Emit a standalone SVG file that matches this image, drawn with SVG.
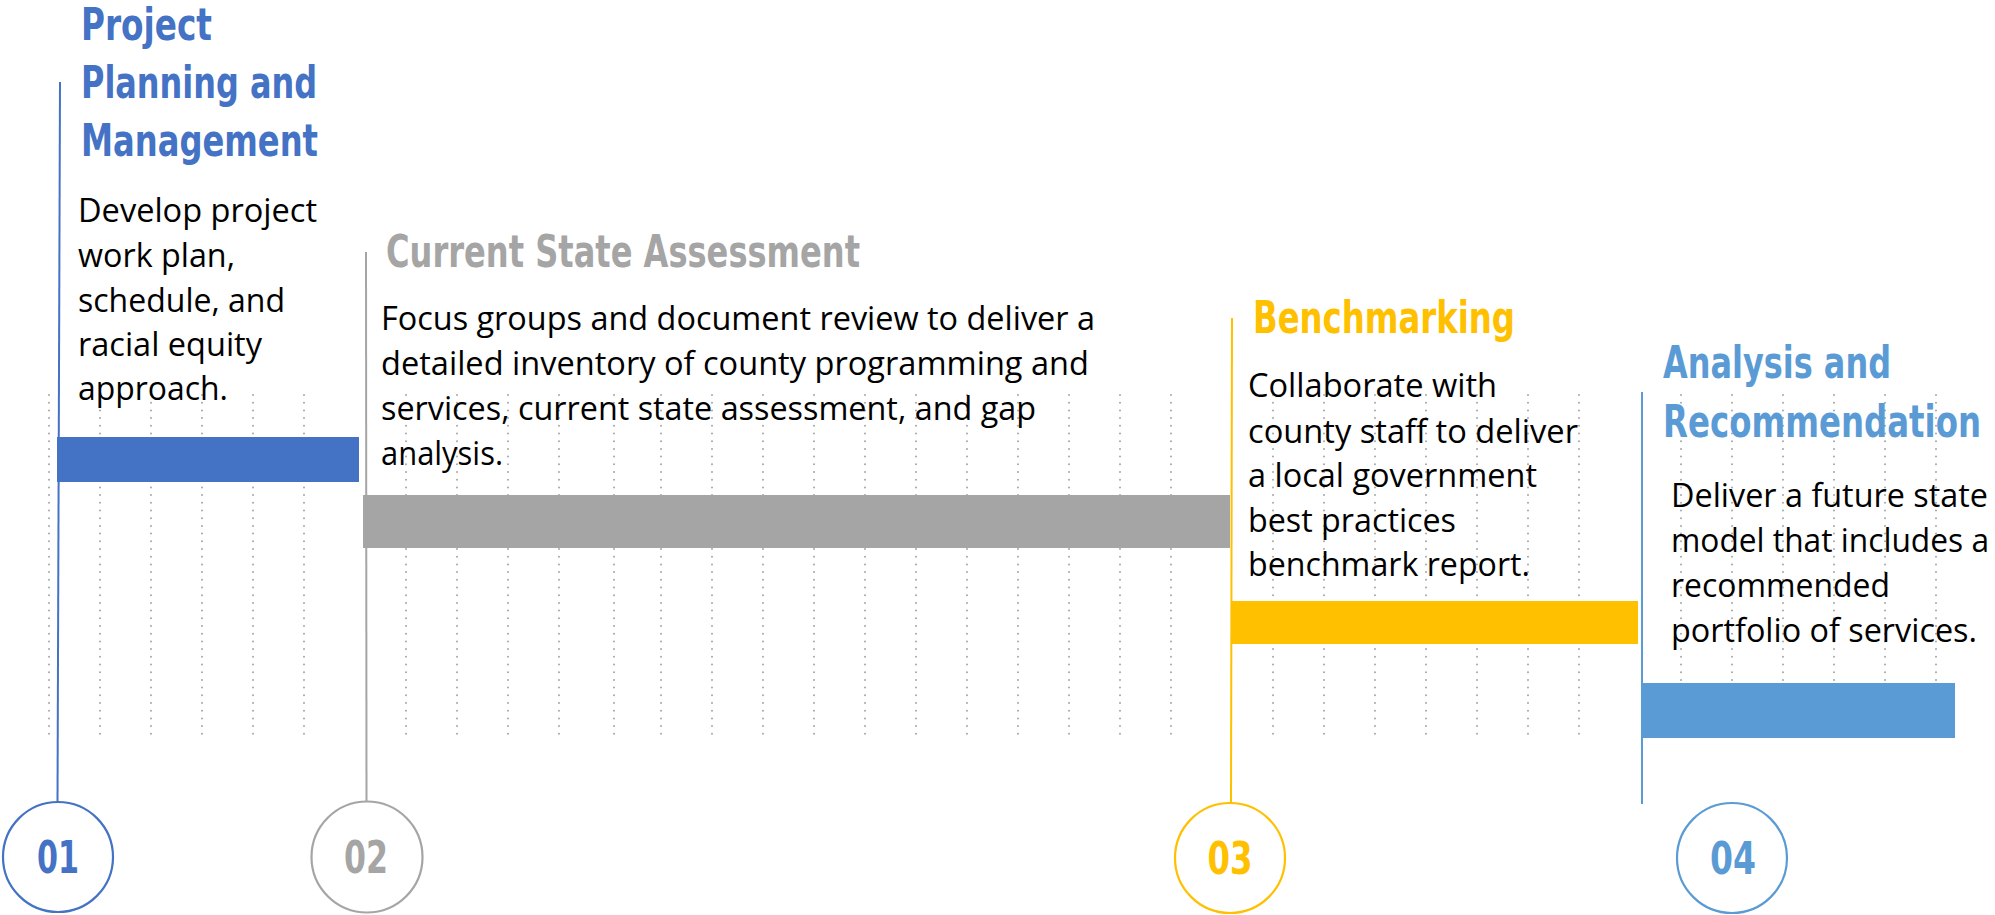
<svg xmlns="http://www.w3.org/2000/svg" width="1995" height="915" viewBox="0 0 1995 915">
<style>
.grid line{stroke:#A6A6A6;stroke-width:2;stroke-dasharray:0 7.7;stroke-linecap:round}
.title{font-family:"DejaVu Sans Condensed","DejaVu Sans","Liberation Sans",sans-serif;font-weight:bold;font-size:44px;font-stretch:condensed}
.body{font-family:"Open Sans","Noto Sans",sans-serif;font-size:33.5px;fill:#000}
.num{font-family:"DejaVu Sans Condensed","DejaVu Sans","Liberation Sans",sans-serif;font-weight:bold;font-size:45px;text-anchor:middle;font-stretch:condensed}
.conn line{stroke-width:2;fill:none}
.ring{fill:#fff;stroke-width:2.2}
.c1{fill:#4472C4}.c2{fill:#A5A5A5}.c3{fill:#FFC000}.c4{fill:#5B9BD5}
</style>
<rect width="1995" height="915" fill="#fff"/>
<g class="grid" id="grid">
<line x1="49" y1="395" x2="49" y2="738"/><line x1="100" y1="395" x2="100" y2="738"/><line x1="151" y1="395" x2="151" y2="738"/><line x1="202" y1="395" x2="202" y2="738"/><line x1="253" y1="395" x2="253" y2="738"/><line x1="304" y1="395" x2="304" y2="738"/>
<line x1="406" y1="395" x2="406" y2="738"/><line x1="457" y1="395" x2="457" y2="738"/><line x1="508" y1="395" x2="508" y2="738"/><line x1="559" y1="395" x2="559" y2="738"/><line x1="614" y1="395" x2="614" y2="738"/><line x1="661" y1="395" x2="661" y2="738"/><line x1="712" y1="395" x2="712" y2="738"/><line x1="763" y1="395" x2="763" y2="738"/><line x1="814" y1="395" x2="814" y2="738"/><line x1="865" y1="395" x2="865" y2="738"/><line x1="916" y1="395" x2="916" y2="738"/><line x1="967" y1="395" x2="967" y2="738"/><line x1="1018" y1="395" x2="1018" y2="738"/><line x1="1069" y1="395" x2="1069" y2="738"/><line x1="1120" y1="395" x2="1120" y2="738"/><line x1="1171" y1="395" x2="1171" y2="738"/>
<line x1="1273" y1="395" x2="1273" y2="738"/><line x1="1324" y1="395" x2="1324" y2="738"/><line x1="1375" y1="395" x2="1375" y2="738"/><line x1="1426" y1="395" x2="1426" y2="738"/><line x1="1477" y1="395" x2="1477" y2="738"/><line x1="1528" y1="395" x2="1528" y2="738"/><line x1="1579" y1="395" x2="1579" y2="738"/>
<line x1="1681" y1="395" x2="1681" y2="738"/><line x1="1732" y1="395" x2="1732" y2="738"/><line x1="1783" y1="395" x2="1783" y2="738"/><line x1="1834" y1="395" x2="1834" y2="738"/><line x1="1885" y1="395" x2="1885" y2="738"/><line x1="1936" y1="395" x2="1936" y2="738"/>
</g>
<g class="conn" id="connectors">
<line x1="60" y1="82" x2="57.5" y2="802" stroke="#4472C4"/>
<line x1="366" y1="252" x2="366.5" y2="801" stroke="#A5A5A5"/>
<line x1="1232" y1="318" x2="1231" y2="803" stroke="#FFC000"/>
<line x1="1642" y1="392" x2="1642" y2="804" stroke="#5B9BD5"/>
</g>
<g id="phase-01">
<rect class="c1" x="57" y="437" width="302" height="45"/>
<text class="title c1" x="81" y="40" textLength="131" lengthAdjust="spacingAndGlyphs">Project</text>
<text class="title c1" x="81" y="98" textLength="236" lengthAdjust="spacingAndGlyphs">Planning and</text>
<text class="title c1" x="81" y="156" textLength="237" lengthAdjust="spacingAndGlyphs">Management</text>
<text class="body" x="78" y="222" textLength="239" lengthAdjust="spacingAndGlyphs">Develop project</text>
<text class="body" x="78" y="267" textLength="157" lengthAdjust="spacingAndGlyphs">work plan,</text>
<text class="body" x="78" y="312" textLength="207" lengthAdjust="spacingAndGlyphs">schedule, and</text>
<text class="body" x="78" y="356" textLength="184" lengthAdjust="spacingAndGlyphs">racial equity</text>
<text class="body" x="78" y="400" textLength="150" lengthAdjust="spacingAndGlyphs">approach.</text>
<circle class="ring" cx="58" cy="857" r="55" stroke="#4472C4"/>
<text class="num c1" x="58" y="873" textLength="42" lengthAdjust="spacingAndGlyphs">01</text>
</g>
<g id="phase-02">
<rect class="c2" x="363" y="495" width="867" height="53"/>
<text class="title c2" x="386" y="267" textLength="474" lengthAdjust="spacingAndGlyphs">Current State Assessment</text>
<text class="body" x="381" y="330" textLength="714" lengthAdjust="spacingAndGlyphs">Focus groups and document review to deliver a</text>
<text class="body" x="381" y="375" textLength="708" lengthAdjust="spacingAndGlyphs">detailed inventory of county programming and</text>
<text class="body" x="381" y="420" textLength="655" lengthAdjust="spacingAndGlyphs">services, current state assessment, and gap</text>
<text class="body" x="381" y="465" textLength="122" lengthAdjust="spacingAndGlyphs">analysis.</text>
<circle class="ring" cx="367" cy="857" r="55.5" stroke="#A5A5A5"/>
<text class="num c2" x="366" y="873" textLength="44" lengthAdjust="spacingAndGlyphs">02</text>
</g>
<g id="phase-03">
<rect class="c3" x="1231" y="601" width="407" height="43"/>
<text class="title c3" x="1253" y="333" textLength="262" lengthAdjust="spacingAndGlyphs">Benchmarking</text>
<text class="body" x="1248" y="397" textLength="249" lengthAdjust="spacingAndGlyphs">Collaborate with</text>
<text class="body" x="1248" y="443" textLength="330" lengthAdjust="spacingAndGlyphs">county staff to deliver</text>
<text class="body" x="1248" y="487" textLength="289" lengthAdjust="spacingAndGlyphs">a local government</text>
<text class="body" x="1248" y="532" textLength="208" lengthAdjust="spacingAndGlyphs">best practices</text>
<text class="body" x="1248" y="576" textLength="282" lengthAdjust="spacingAndGlyphs">benchmark report.</text>
<circle class="ring" cx="1230" cy="858" r="55" stroke="#FFC000"/>
<text class="num c3" x="1230" y="874" textLength="45" lengthAdjust="spacingAndGlyphs">03</text>
</g>
<g id="phase-04">
<rect class="c4" x="1642" y="683" width="313" height="55"/>
<text class="title c4" x="1663" y="378" textLength="228" lengthAdjust="spacingAndGlyphs">Analysis and</text>
<text class="title c4" x="1663" y="437" textLength="318" lengthAdjust="spacingAndGlyphs">Recommendation</text>
<text class="body" x="1671" y="507" textLength="317" lengthAdjust="spacingAndGlyphs">Deliver a future state</text>
<text class="body" x="1671" y="552" textLength="318" lengthAdjust="spacingAndGlyphs">model that includes a</text>
<text class="body" x="1671" y="597" textLength="219" lengthAdjust="spacingAndGlyphs">recommended</text>
<text class="body" x="1671" y="642" textLength="306" lengthAdjust="spacingAndGlyphs">portfolio of services.</text>
<circle class="ring" cx="1732" cy="858" r="55" stroke="#5B9BD5"/>
<text class="num c4" x="1733" y="874" textLength="46" lengthAdjust="spacingAndGlyphs">04</text>
</g>
</svg>
